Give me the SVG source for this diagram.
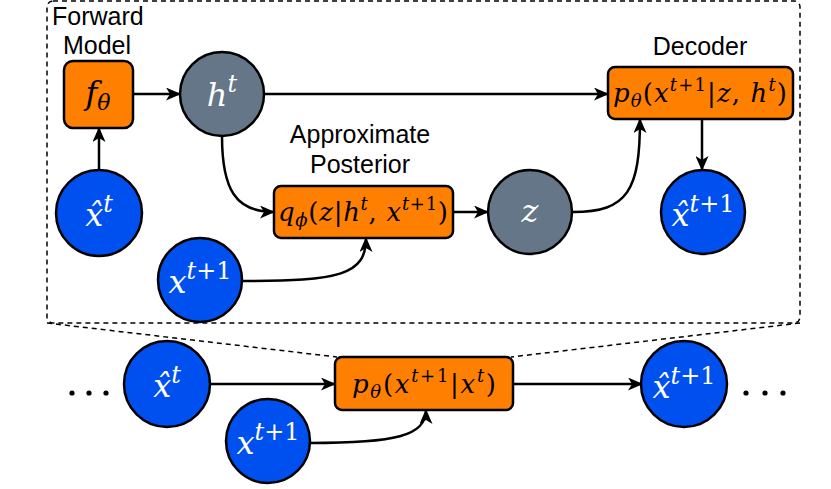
<svg xmlns="http://www.w3.org/2000/svg" width="831" height="489" viewBox="0 0 831 489">
<defs>
<marker id="ah" markerWidth="15" markerHeight="13" refX="14" refY="6.5" orient="auto" markerUnits="userSpaceOnUse">
<path d="M0,0 L15,6.5 L0,13 L4,6.5 z" fill="#000"/>
</marker>
<style>
.lbl{font-family:"Liberation Sans",Arial,sans-serif;font-size:25px;fill:#000;text-anchor:middle}
.m{font-family:"DejaVu Serif","Liberation Serif",serif;font-size:26px;fill:#000;text-anchor:middle}
.w{fill:#fff;font-size:32px}
.i{font-style:italic}
.s{font-size:18px}
.ws{font-size:24px}
.box{fill:#FF8000;stroke:#000;stroke-width:2.5}
.blue{fill:#0050EF;stroke:#000;stroke-width:2.5}
.gray{fill:#647687;stroke:#000;stroke-width:2.5}
.c{fill:none;stroke:#000;stroke-width:2.5}
.d{fill:none;stroke:#000;stroke-width:1.5;stroke-dasharray:5,4}
</style>
</defs>

<g id="frame">
<rect x="47" y="1" width="753" height="322" rx="6" class="d"/>
<line x1="47" y1="323" x2="337" y2="357" class="d"/>
<line x1="800" y1="323" x2="511" y2="357" class="d"/>
<text class="lbl" x="52" y="25" style="text-anchor:start">Forward</text>
<text class="lbl" x="97" y="54">Model</text>
<text class="lbl" x="360" y="143">Approximate</text>
<text class="lbl" x="360" y="173">Posterior</text>
<text class="lbl" x="700" y="55">Decoder</text>
</g>

<g id="connectors">
<path d="M133,94 L180,94" class="c" marker-end="url(#ah)"/>
<path d="M99,170 L99,128" class="c" marker-end="url(#ah)"/>
<path d="M265,94 L608,94" class="c" marker-end="url(#ah)"/>
<path d="M222,136 C222,190 236,212 274,212" class="c" marker-end="url(#ah)"/>
<path d="M242,281 C340,281 366,275 366,238" class="c" marker-end="url(#ah)"/>
<path d="M453,212 L488,212" class="c" marker-end="url(#ah)"/>
<path d="M573,212 C628,212 640,190 640,119" class="c" marker-end="url(#ah)"/>
<path d="M702,119 L702,170" class="c" marker-end="url(#ah)"/>
<path d="M210,384 L335,384" class="c" marker-end="url(#ah)"/>
<path d="M310,443 C395,443 426,436 426,410" class="c" marker-end="url(#ah)"/>
<path d="M513,384 L642,384" class="c" marker-end="url(#ah)"/>
</g>

<g id="f_theta">
<rect x="64" y="61" width="69" height="67" rx="9" class="box"/>
<text class="m" x="98" y="104" style="font-size:32px"><tspan class="i">f</tspan><tspan class="i" dy="6" style="font-size:22px">θ</tspan></text>
</g>

<g id="h_t">
<circle cx="222" cy="94" r="42" class="gray"/>
<text class="m w" x="222" y="106"><tspan class="i">h</tspan><tspan class="i ws" dy="-14">t</tspan></text>
</g>

<g id="xhat_t_top">
<circle cx="99" cy="213" r="43" class="blue"/>
<text class="m w" x="99" y="226"><tspan class="i">x̂</tspan><tspan class="i ws" dy="-14">t</tspan></text>
</g>

<g id="x_t1_top">
<circle cx="200" cy="280" r="42" class="blue"/>
<text class="m w" x="200" y="293"><tspan class="i">x</tspan><tspan class="ws" dy="-14"><tspan class="i">t</tspan>+1</tspan></text>
</g>

<g id="q_phi">
<rect x="274" y="186" width="179" height="52" rx="7" class="box"/>
<text class="m" x="363" y="221" textLength="170" lengthAdjust="spacing"><tspan class="i">q</tspan><tspan class="i s" dy="5">ϕ</tspan><tspan dy="-5">(</tspan><tspan class="i">z</tspan>|<tspan class="i">h</tspan><tspan class="i s" dy="-11">t</tspan><tspan dy="11">, </tspan><tspan class="i">x</tspan><tspan class="s" dy="-11"><tspan class="i">t</tspan>+1</tspan><tspan dy="11">)</tspan></text>
</g>

<g id="z">
<circle cx="530" cy="212" r="42" class="gray"/>
<text class="m w i" x="530" y="222">z</text>
</g>

<g id="decoder">
<rect x="608" y="67" width="185" height="52" rx="7" class="box"/>
<text class="m" x="700" y="102" textLength="174" lengthAdjust="spacing"><tspan class="i">p</tspan><tspan class="i s" dy="5">θ</tspan><tspan dy="-5">(</tspan><tspan class="i">x</tspan><tspan class="s" dy="-11"><tspan class="i">t</tspan>+1</tspan><tspan dy="11">|</tspan><tspan class="i">z</tspan>, <tspan class="i">h</tspan><tspan class="i s" dy="-11">t</tspan><tspan dy="11">)</tspan></text>
</g>

<g id="xhat_t1_top">
<circle cx="703" cy="212" r="42" class="blue"/>
<text class="m w" x="703" y="226"><tspan class="i">x̂</tspan><tspan class="ws" dy="-14"><tspan class="i">t</tspan>+1</tspan></text>
</g>

<g id="xhat_t_bottom">
<circle cx="167" cy="384" r="43" class="blue"/>
<text class="m w" x="167" y="397"><tspan class="i">x̂</tspan><tspan class="i ws" dy="-14">t</tspan></text>
</g>

<g id="x_t1_bottom">
<circle cx="268" cy="441" r="42" class="blue"/>
<text class="m w" x="268" y="454"><tspan class="i">x</tspan><tspan class="ws" dy="-14"><tspan class="i">t</tspan>+1</tspan></text>
</g>

<g id="p_theta_bottom">
<rect x="335" y="357" width="178" height="53" rx="7" class="box"/>
<text class="m" x="424" y="393" textLength="144" lengthAdjust="spacing"><tspan class="i">p</tspan><tspan class="i s" dy="5">θ</tspan><tspan dy="-5">(</tspan><tspan class="i">x</tspan><tspan class="s" dy="-11"><tspan class="i">t</tspan>+1</tspan><tspan dy="11">|</tspan><tspan class="i">x</tspan><tspan class="i s" dy="-11">t</tspan><tspan dy="11">)</tspan></text>
</g>

<g id="xhat_t1_bottom">
<circle cx="684" cy="384" r="43" class="blue"/>
<text class="m w" x="684" y="398"><tspan class="i">x̂</tspan><tspan class="ws" dy="-14"><tspan class="i">t</tspan>+1</tspan></text>
</g>

<g id="dots">
<circle cx="72" cy="393" r="2.6"/>
<circle cx="89" cy="393" r="2.6"/>
<circle cx="106" cy="393" r="2.6"/>
<circle cx="746" cy="393" r="2.6"/>
<circle cx="765" cy="393" r="2.6"/>
<circle cx="783" cy="393" r="2.6"/>
</g>
</svg>
